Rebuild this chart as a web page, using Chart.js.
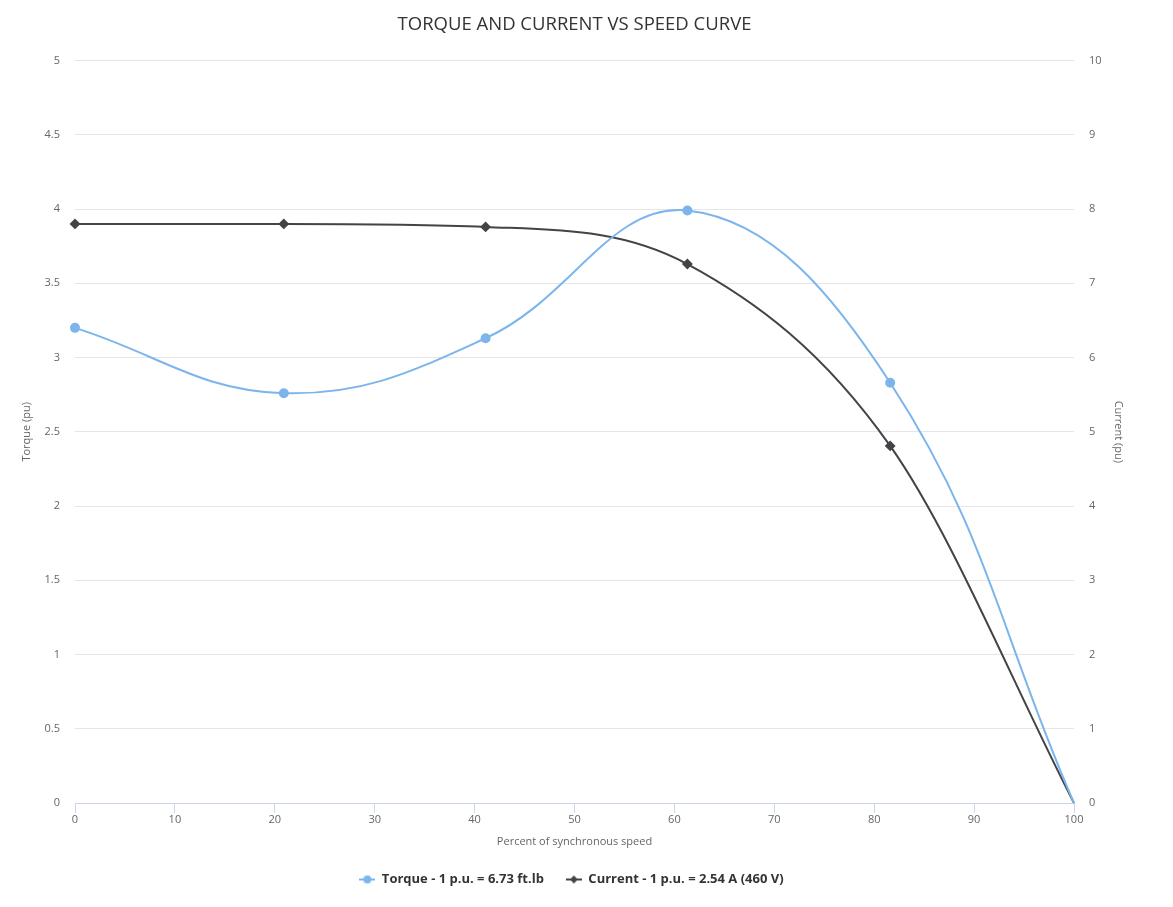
<!DOCTYPE html>
<html lang="en">

<head>
    <meta charset="UTF-8">
    <title>Torque and Current vs Speed Curve</title>
    <style>
        body { margin: 0; background: #fff; }
        #wrap { width: 1173px; height: 907px; }
    </style>
</head>

<body>
    <div id="wrap">
        <canvas id="myChart"></canvas>
    </div>

    <script src="https://cdn.jsdelivr.net/npm/chart.js/dist/chart.min.js"></script>
    <script>
        // percent of synchronous speed
        const speed = [0, 20.9, 41.1, 61.3, 81.6, 100];
        const torque = [3.2, 2.76, 3.13, 3.99, 2.83, 0];
        const current = [7.8, 7.8, 7.76, 7.26, 4.81, 0];

        const torqueLabel = 'Torque - 1 p.u. = 6.73 ft.lb';
        const currentLabel = 'Current - 1 p.u. = 2.54 A (460 V)';

        const FONT = '"Open Sans", "DejaVu Sans", sans-serif';

        // legend symbol: short line with the marker in the middle
        function legendIcon(color, diamond) {
            const c = document.createElement('canvas');
            c.width = 16; c.height = 10;
            const g = c.getContext('2d');
            g.strokeStyle = color;
            g.lineWidth = 2;
            g.beginPath(); g.moveTo(0, 5); g.lineTo(16, 5); g.stroke();
            g.fillStyle = color;
            g.beginPath();
            if (diamond) {
                g.moveTo(8, 1); g.lineTo(12, 5); g.lineTo(8, 9); g.lineTo(4, 5);
            } else {
                g.arc(8, 5, 4, 0, Math.PI * 2);
            }
            g.fill();
            return c;
        }

        // title and legend sit centred over the plot, not the whole canvas
        const centreOnPlot = {
            id: 'centreOnPlot',
            beforeDraw(chart) {
                const mid = (chart.chartArea.left + chart.chartArea.right) / 2;
                [chart.titleBlock, chart.legend].forEach((box, i) => {
                    const d = mid - (box.left + box.right) / 2 - (i === 1 ? 3 : 0);
                    box.left += d;
                    box.right += d;
                });
            }
        };

        const pts = (xs, ys) => xs.map((x, i) => ({ x: x, y: ys[i] }));
        const radii = speed.map((s, i) => i === speed.length - 1 ? 0 : 4);

        const config = {
            type: 'line',
            data: {
                datasets: [{
                    label: torqueLabel,
                    data: pts(speed, torque),
                    borderColor: '#7cb5ec',
                    backgroundColor: '#7cb5ec',
                    borderWidth: 2,
                    pointRadius: radii,
                    pointStyle: 'circle',
                    tension: 0.4,
                    yAxisID: 'y',
                    clip: false,
                    icon: legendIcon('#7cb5ec', false)
                },
                {
                    label: currentLabel,
                    data: pts(speed, current),
                    borderColor: '#434348',
                    backgroundColor: '#434348',
                    borderWidth: 2,
                    pointRadius: radii,
                    pointStyle: 'rectRot',
                    cubicInterpolationMode: 'monotone',
                    yAxisID: 'y2',
                    clip: false,
                    icon: legendIcon('#434348', true)
                }]
            },
            options: {
                responsive: true,
                maintainAspectRatio: false,
                animation: false,
                layout: { padding: { left: 0, right: 0, top: 0, bottom: 11 } },
                plugins: {
                    title: {
                        display: true,
                        text: 'TORQUE AND CURRENT VS SPEED CURVE',
                        color: '#333333',
                        font: { family: FONT, size: 18.5, weight: 'normal' },
                        padding: { top: 14, bottom: 24.4 }
                    },
                    legend: {
                        position: 'bottom',
                        labels: {
                            usePointStyle: true,
                            pointStyleWidth: 16,
                            padding: 22,
                            color: '#333333',
                            font: { family: FONT, size: 13, weight: 'bold' },
                            generateLabels: (chart) => chart.data.datasets.map((ds, i) => ({
                                text: ds.label,
                                pointStyle: ds.icon,
                                fontColor: '#333333',
                                lineWidth: 0,
                                datasetIndex: i
                            }))
                        }
                    },
                    tooltip: { enabled: false }
                },
                scales: {
                    x: {
                        type: 'linear',
                        min: 0,
                        max: 100,
                        ticks: {
                            stepSize: 10,
                            color: '#666666',
                            padding: 0,
                            font: { family: FONT, size: 11 }
                        },
                        grid: {
                            drawOnChartArea: false,
                            color: '#ccd6eb',
                            tickLength: 10
                        },
                        border: { color: '#ccd6eb' },
                        title: {
                            display: true,
                            text: 'Percent of synchronous speed',
                            color: '#666666',
                            font: { family: FONT, size: 11 },
                            padding: { top: 0, bottom: 2.4 }
                        },
                        afterFit: (s) => { s.height = 48; }
                    },
                    y: {
                        position: 'left',
                        min: 0,
                        max: 5,
                        ticks: {
                            stepSize: 0.5,
                            color: '#666666',
                            padding: 15,
                            font: { family: FONT, size: 11 },
                            callback: (v) => String(v)
                        },
                        grid: { color: '#e6e6e6', drawTicks: false },
                        border: { display: false },
                        title: {
                            display: true,
                            text: 'Torque (pu)',
                            color: '#666666',
                            font: { family: FONT, size: 11 },
                            padding: { top: 20, bottom: 0 }
                        },
                        afterFit: (s) => { s.width = 75; }
                    },
                    y2: {
                        position: 'right',
                        min: 0,
                        max: 10,
                        ticks: {
                            stepSize: 1,
                            color: '#666666',
                            padding: 15,
                            font: { family: FONT, size: 11 }
                        },
                        grid: { drawOnChartArea: false, drawTicks: false },
                        border: { display: false },
                        title: {
                            display: true,
                            text: 'Current (pu)',
                            color: '#666666',
                            font: { family: FONT, size: 11 },
                            padding: { top: 48, bottom: 0 }
                        },
                        afterFit: (s) => { s.width = 99; }
                    }
                }
            },
            plugins: [centreOnPlot]
        };

        const myChart = new Chart(
            document.getElementById('myChart'),
            config
        );
    </script>
</body>

</html>
